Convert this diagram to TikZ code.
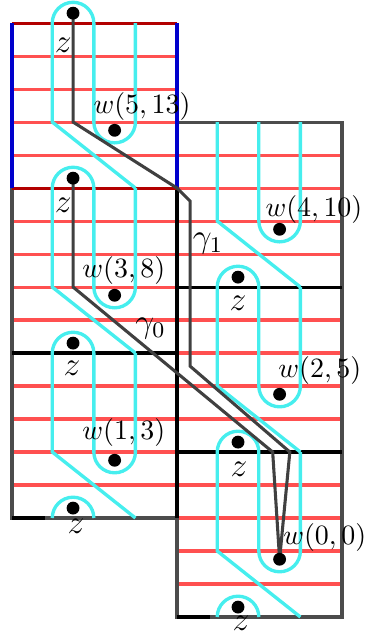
\documentclass[tikz,border=0pt]{standalone}
\usepackage{amsmath,amssymb}
\usetikzlibrary{calc}
\definecolor{betacol}{RGB}{70,238,238}
\definecolor{alphacol}{RGB}{255,80,80}

\begin{document}
\begin{tikzpicture}[x=.415cm,y=.415cm,
    acurve/.style={alphacol,line width=1.1pt},
    bcurve/.style={betacol,line width=1.2pt},
    frame/.style={black!70,line width=1.1pt},
    gam/.style={black!75,line width=1.1pt},
    pt/.style={circle,fill=black,inner sep=0pt,minimum size=4.6pt}]
    \useasboundingbox (-0.364,-0.576) rectangle (10.76,18.7);
    % horizontal alpha curves
    \foreach \y in {3,...,18} {\draw[acurve] (0,\y)--(5,\y);}
    \foreach \y in {0,...,15} {\draw[acurve] (5,\y)--(10,\y);}
    % block frames
    \foreach \oy in {3,8} {\draw[frame] (0,\oy) rectangle +(5,5);}
    \foreach \oy in {0,5,10} {\draw[frame] (5,\oy) rectangle +(5,5);}
    \draw[black,line width=1.1pt] (0,8)--(5,8) (5,10)--(10,10) (5,5)--(10,5) (5,3)--(5,13);
    \draw[black,line width=1.1pt] (0,3)--(1,3) (5,0)--(6,0);
    \draw[red!70!black,line width=1.1pt] (0,18)--(5,18) (0,13)--(5,13);
    \draw[blue!80!black,line width=1.1pt] (0,13)--(0,18) (5,13)--(5,18);
    % beta curves in each block
    \foreach \ox/\oy in {0/3,0/8,0/13,5/0,5/5,5/10} {
      \begin{scope}[shift={(\ox,\oy)}]
        \draw[bcurve] (3.74,5)--(3.74,2) arc[start angle=0,end angle=-180,radius=.63]--(2.48,5);
        \draw[bcurve] (1.22,5)--(1.22,2)--(3.74,0);
      \end{scope}
    }
    \foreach \ox/\b in {0/3,0/8,0/13,0/18,5/0,5/5,5/10} {
      \draw[bcurve] (\ox+1.22,\b) arc[start angle=180,end angle=0,radius=.63];
    }
    % basepoints
    \foreach \ox/\b in {0/3,0/8,0/13,0/18,5/0,5/5,5/10} {\coordinate (z\b) at (\ox+1.85,\b+.3);}
    \foreach \ox/\oy in {0/3,0/8,0/13,5/0,5/5,5/10} {\coordinate (w\oy) at (\ox+3.11,\oy+1.75);}
    % the two paths
    \draw[gam] (z18)--(1.85,15)--(5,13)--(5.4,12.6)--(5.4,7.6)--(8.42,5)--(w0);
    \draw[gam] (z13)--(1.85,10)--(7.9,5)--(w0);
    \foreach \b in {3,8,13,18,0,5,10} {\node[pt] (dz\b) at (z\b) {};}
    \foreach \oy in {3,8,13,0,5,10} {\node[pt] (dw\oy) at (w\oy) {};}
    % labels
    \foreach \b/\lx/\ly in {18/1.55/17.33,13/1.55/12.48,8/1.82/7.55,3/1.94/2.76,10/6.85/9.5,5/6.88/4.48,0/6.94/-0.18} {
      \node[font=\large] (lz\b) at (\lx,\ly) {$z$};
    }
    \foreach \oy/\k/\lx/\ly in {13/5/3.94/15.48,10/4/9.15/12.36,8/3/3.39/10.5,5/2/9.33/7.48,3/1/3.39/5.6,0/0/9.48/2.42} {
      \node (lw\oy) at (\lx,\ly) {$w(\k,\oy)$};
    }
    \node[font=\large] (g1) at (5.94,11.33) {$\gamma_1$};
    \node[font=\large] (g0) at (4.2,8.73) {$\gamma_0$};
  \end{tikzpicture}
\end{document}
